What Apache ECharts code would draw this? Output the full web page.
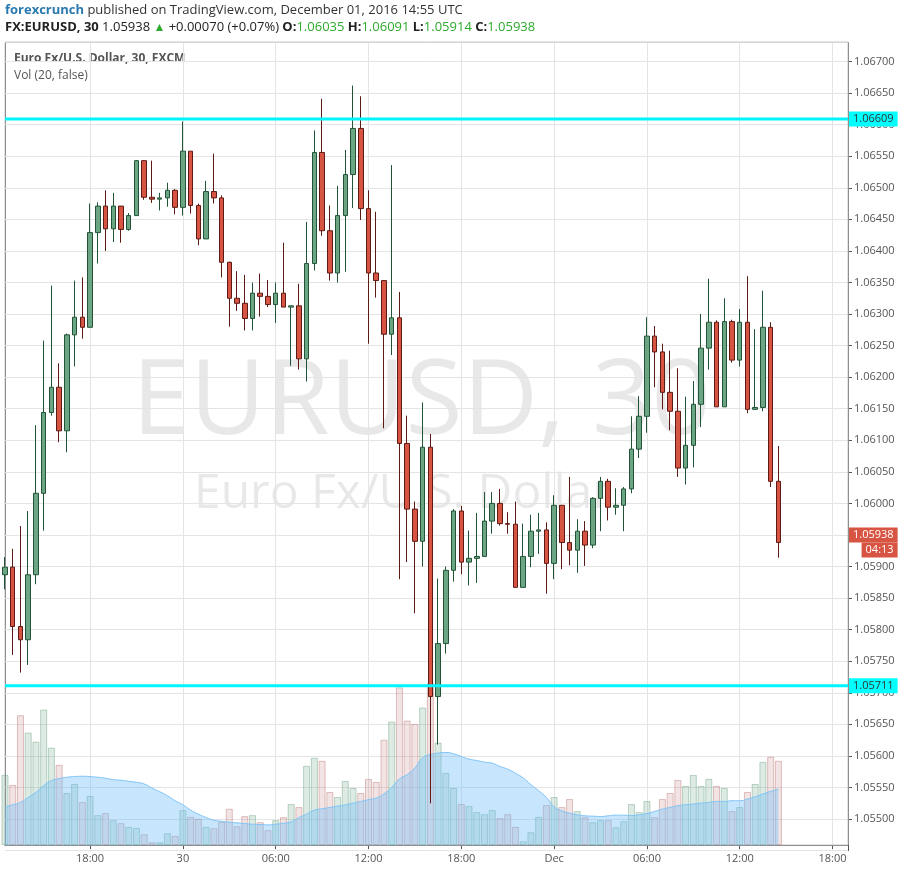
<!DOCTYPE html>
<html><head><meta charset="utf-8">
<script src="https://cdn.jsdelivr.net/npm/echarts@6/dist/echarts.min.js"></script>
<style>html,body{margin:0;padding:0;background:#fff}#c{width:904px;height:871px}</style>
</head><body><div id="c"></div>
<script>
const startLabel = 'Nov 29 12:30';
const tickIndex = [11, 23, 35, 47, 59, 71, 83, 95, 107];
const tickLabels = ['18:00', '30', '06:00', '12:00', '18:00', 'Dec', '06:00', '12:00', '18:00'];
const slotCount = 110;
const opens = [1.05887,1.05899,1.05805,1.05784,1.05887,1.06016,1.06144,1.06184,1.06115,1.06267,
1.06295,1.06279,1.06429,1.06471,1.06435,1.06471,1.06434,1.06456,1.06543,1.06485,
1.06482,1.06484,1.06496,1.06469,1.06558,1.06472,1.06419,1.06494,1.06484,1.06382,
1.06325,1.06317,1.06293,1.06333,1.06328,1.06315,1.06333,1.06311,1.06313,1.06229,
1.0638,1.06556,1.06432,1.06365,1.06456,1.06521,1.06594,1.06467,1.06365,1.06353,
1.06268,1.06294,1.06095,1.05991,1.0594,1.06089,1.05694,1.05778,1.05894,1.05988,
1.05907,1.05913,1.05916,1.05972,1.06,1.05968,1.05967,1.05867,1.05916,1.05956,
1.05958,1.05905,1.05997,1.05938,1.05926,1.05956,1.05934,1.06008,1.06035,1.05994,
1.05997,1.06023,1.06086,1.06138,1.06265,1.0624,1.06176,1.06146,1.06056,1.06092,
1.06157,1.06246,1.06287,1.06153,1.06288,1.06227,1.06287,1.06149,1.06152,1.06279,
1.06035];
const closes = [1.05899,1.05805,1.05784,1.05887,1.06016,1.06144,1.06184,1.06115,1.06267,1.06295,
1.06279,1.06429,1.06471,1.06435,1.06471,1.06434,1.06456,1.06543,1.06485,1.06482,
1.06484,1.06496,1.06469,1.06558,1.06472,1.06419,1.06494,1.06484,1.06382,1.06325,
1.06317,1.06293,1.06333,1.06328,1.06315,1.06333,1.06311,1.06313,1.06229,1.0638,
1.06556,1.06432,1.06365,1.06456,1.06521,1.06594,1.06467,1.06365,1.06353,1.06268,
1.06294,1.06095,1.05991,1.0594,1.06089,1.05694,1.05778,1.05894,1.05988,1.05907,
1.05913,1.05916,1.05972,1.06,1.05968,1.05967,1.05867,1.05916,1.05956,1.05958,
1.05905,1.05997,1.05938,1.05926,1.05956,1.05934,1.06008,1.06035,1.05994,1.05997,
1.06023,1.06086,1.06138,1.06265,1.0624,1.06176,1.06146,1.06056,1.06092,1.06157,
1.06246,1.06287,1.06153,1.06288,1.06227,1.06287,1.06149,1.06152,1.06279,1.06035,
1.05938];
const highs = [1.05915,1.05928,1.05964,1.05988,1.06124,1.06258,1.06345,1.06222,1.06269,1.06353,
1.06358,1.06475,1.06477,1.06496,1.06492,1.06471,1.0646,1.06544,1.06543,1.06543,
1.06492,1.06508,1.06498,1.06605,1.06558,1.06475,1.06511,1.06554,1.06488,1.06383,
1.06368,1.06362,1.0635,1.06364,1.06354,1.0635,1.06413,1.06313,1.06348,1.06446,
1.06591,1.06641,1.06472,1.06503,1.0656,1.06662,1.06645,1.06496,1.06462,1.06353,
1.06536,1.06335,1.06139,1.06003,1.0616,1.0611,1.05881,1.059,1.05991,1.05996,
1.05957,1.05985,1.06018,1.06018,1.06023,1.05986,1.06003,1.05968,1.05982,1.05985,
1.0597,1.06013,1.05997,1.06042,1.05975,1.05972,1.0601,1.06042,1.06039,1.06024,
1.06026,1.06138,1.0617,1.06295,1.06281,1.06253,1.06242,1.06214,1.06169,1.06194,
1.063,1.06356,1.0629,1.06325,1.06291,1.06308,1.0636,1.06276,1.06337,1.06287,
1.06091];
const lows = [1.05864,1.0576,1.05732,1.05744,1.05872,1.05957,1.06139,1.06097,1.06081,1.06217,
1.06261,1.06279,1.0638,1.064,1.06414,1.06413,1.06432,1.06456,1.06481,1.06476,
1.06464,1.0647,1.06458,1.06456,1.06459,1.06409,1.06419,1.06475,1.06358,1.0628,
1.06305,1.06274,1.06274,1.06296,1.06311,1.06286,1.06311,1.06218,1.06212,1.06193,
1.06369,1.06424,1.06353,1.0635,1.06367,1.06468,1.06449,1.06253,1.06326,1.06119,
1.06235,1.0588,1.05907,1.05826,1.059,1.05525,1.05618,1.05762,1.05876,1.05888,
1.0587,1.05874,1.05916,1.05952,1.05965,1.05952,1.05867,1.05867,1.05899,1.0592,
1.05857,1.0588,1.05896,1.05902,1.0589,1.05901,1.05929,1.05956,1.05973,1.05982,
1.05956,1.06016,1.06072,1.06112,1.06184,1.06149,1.06116,1.06042,1.0603,1.06057,
1.06121,1.06212,1.06153,1.06153,1.06223,1.06217,1.06143,1.06148,1.06146,1.06026,
1.05914];
const volumes = [209,179,387,335,308,404,290,239,155,182,128,146,89,95,74,65,54,51,32,8,
8,35,27,104,84,78,54,50,69,108,56,86,89,68,44,74,83,122,113,236,
260,251,158,143,191,170,155,197,188,314,368,470,371,361,410,482,305,215,170,122,
116,98,92,104,80,92,54,11,38,84,119,143,113,137,101,83,68,74,74,53,
71,122,98,131,83,137,155,194,176,209,176,197,176,170,101,113,158,182,248,263,251];
const volMA = [114,120,127,142,157,177,192,198,202,204,205,204,202,199,195,193,190,187,182,170,
159,147,132,120,104,92,82,74,71,68,66,64,62,61,60,62,65,69,82,92,
104,108,112,116,120,125,130,135,140,152,172,197,210,230,260,270,274,276,272,264,
256,252,247,244,234,226,214,200,180,162,142,114,102,95,90,87,86,85,87,89,
89,88,90,94,100,107,112,117,120,122,125,127,130,130,132,132,137,144,152,160,167];
const levelHigh = 1.06609, levelLow = 1.05711, lastPrice = 1.05938, countdown = '04:13';

const cats = [];
for (let i = 0; i < slotCount; i++) { const k = tickIndex.indexOf(i); cats.push(k >= 0 ? tickLabels[k] : (i === 0 ? startLabel : 'c' + i)); }
const candle = opens.map((o, i) => [o, closes[i], lows[i], highs[i]]);
const UP = '#6ba583', DN = '#d75442';
const volData = volumes.map((v, i) => ({ value: v, itemStyle: closes[i] >= opens[i]
  ? { color: 'rgba(107,165,131,0.22)', borderColor: 'rgba(107,165,131,0.45)', borderWidth: 1 }
  : { color: 'rgba(190,120,120,0.20)', borderColor: 'rgba(190,120,120,0.45)', borderWidth: 1 } }));
const isTick = (i) => tickIndex.indexOf(i) >= 0;
const levelLabel = { position: 'end', distance: 1, backgroundColor: '#00ffff', color: '#333', fontSize: 11, padding: [2, 4] };

const chart = echarts.init(document.getElementById('c'), null, { renderer: 'canvas' });
chart.setOption({
  animation: false,
  backgroundColor: '#fff',
  textStyle: { fontFamily: 'Open Sans, Liberation Sans, sans-serif' },
  grid: [
    { left: 5, right: 56, top: 42.6, bottom: 20.4 },
    { left: 5, right: 56, top: 680, bottom: 26 }
  ],
  xAxis: [
    { type: 'category', gridIndex: 0, data: cats, boundaryGap: false,
      axisLine: { show: false }, axisTick: { show: false }, axisLabel: { show: false },
      splitLine: { show: true, interval: (i) => isTick(i), lineStyle: { color: '#e4e4e4' } } },
    { type: 'category', gridIndex: 1, data: cats, boundaryGap: false,
      axisLine: { show: true, lineStyle: { color: '#555' } },
      axisTick: { show: true, interval: (i) => isTick(i), length: 4, lineStyle: { color: '#555' } },
      axisLabel: { show: true, interval: (i) => isTick(i), color: '#555', fontSize: 11, margin: 8 },
      splitLine: { show: false } }
  ],
  yAxis: [
    { type: 'value', gridIndex: 0, position: 'right', min: 1.0545, max: 1.0673, interval: 0.0005,
      axisLine: { show: true, lineStyle: { color: '#555' } },
      axisTick: { show: true, length: 4, lineStyle: { color: '#555' } },
      axisLabel: { color: '#555', fontSize: 11, margin: 6, showMinLabel: false, showMaxLabel: false,
        formatter: (v) => v.toFixed(5) },
      splitLine: { lineStyle: { color: '#e4e4e4' } } },
    { type: 'value', gridIndex: 1, min: 0, max: 492, show: false }
  ],
  graphic: [
    { type: 'text', left: 132, top: 352, z: 0, silent: true,
      style: { text: 'EURUSD, 30', fontSize: 104, fill: 'rgba(0,0,0,0.09)', fontFamily: 'Open Sans, sans-serif' } },
    { type: 'text', left: 194, top: 470, z: 0, silent: true,
      style: { text: 'Euro Fx/U.S. Dollar', fontSize: 48, fill: 'rgba(0,0,0,0.09)', fontFamily: 'Open Sans, sans-serif' } },
    { type: 'rect', shape: { x: 5, y: 42, width: 843, height: 803 }, silent: true, z: 1,
      style: { fill: 'none', stroke: '#c9c9c9', lineWidth: 1 } },
    { type: 'line', shape: { x1: 5.5, y1: 42, x2: 5.5, y2: 845 }, silent: true, style: { stroke: '#555', lineWidth: 1 } },
    { type: 'text', left: 5, top: 4,
      style: { rich: { a: { fill: '#2a7ab0', fontSize: 13, fontFamily: 'Open Sans, sans-serif', fontWeight: 'bold' },
                       b: { fill: '#333', fontSize: 13, fontFamily: 'Open Sans, sans-serif' } },
               text: '{a|forexcrunch} {b|published on TradingView.com, December 01, 2016 14:55 UTC}' } },
    { type: 'text', left: 5, top: 21,
      style: { rich: { a: { fill: '#222', fontSize: 13, fontWeight: 'bold', fontFamily: 'Open Sans, sans-serif' },
                       b: { fill: '#222', fontSize: 13, fontFamily: 'Open Sans, sans-serif' },
                       g: { fill: '#2eaa2e', fontSize: 13, fontFamily: 'Open Sans, sans-serif' },
                       t: { fill: '#2eaa2e', fontSize: 12 } },
               text: '{a|FX:EURUSD, 30} {b|1.05938} {t|▲} {b|+0.00070 (+0.07%)} {a|O:}{g|1.06035} {a|H:}{g|1.06091} {a|L:}{g|1.05914} {a|C:}{g|1.05938}' } },
    { type: 'text', left: 14, top: 53,
      style: { text: 'Euro Fx/U.S. Dollar, 30, FXCM', fill: '#555', fontSize: 12, fontWeight: 'bold', fontFamily: 'Open Sans, sans-serif' } },
    { type: 'text', left: 14, top: 70,
      style: { text: 'Vol (20, false)', fill: '#555', fontSize: 12, fontFamily: 'Open Sans, sans-serif' } }
  ],
  series: [
    { type: 'bar', xAxisIndex: 1, yAxisIndex: 1, data: volData, barWidth: 7, z: 1 },
    { type: 'line', xAxisIndex: 1, yAxisIndex: 1, data: volMA, smooth: true, symbol: 'none', z: 2,
      lineStyle: { color: '#7fc4f7', width: 1 }, areaStyle: { color: 'rgba(110,190,250,0.55)' } },
    { type: 'candlestick', xAxisIndex: 0, yAxisIndex: 0, data: candle, barWidth: 5, z: 5,
      itemStyle: { color: UP, color0: DN, borderColor: '#225437', borderColor0: '#5b1a13', borderWidth: 1 } },
    { type: 'line', xAxisIndex: 0, yAxisIndex: 0, data: [[cats[0], levelHigh], [cats[slotCount - 1], levelHigh]],
      symbol: 'none', z: 6, silent: true, lineStyle: { color: '#00f5ff', width: 3 },
      endLabel: Object.assign({ show: true, formatter: levelHigh.toFixed(5) }, levelLabel) },
    { type: 'line', xAxisIndex: 0, yAxisIndex: 0, data: [[cats[0], levelLow], [cats[slotCount - 1], levelLow]],
      symbol: 'none', z: 6, silent: true, lineStyle: { color: '#00f5ff', width: 3 },
      endLabel: Object.assign({ show: true, formatter: levelLow.toFixed(5) }, levelLabel) },
    { type: 'line', xAxisIndex: 0, yAxisIndex: 0, data: [[cats[0], lastPrice], [cats[slotCount - 1], lastPrice]],
      symbol: 'none', z: 7, silent: true, lineStyle: { opacity: 0 },
      endLabel: { show: true, distance: 1, formatter: '{a|' + lastPrice.toFixed(5) + '}\n{b|' + countdown + '}',
        rich: { a: { backgroundColor: DN, color: '#fff', fontSize: 11, padding: [2, 4] },
                b: { backgroundColor: DN, color: '#fff', fontSize: 11, padding: [2, 4], align: 'right' } } } }
  ]
});
</script></body></html>
